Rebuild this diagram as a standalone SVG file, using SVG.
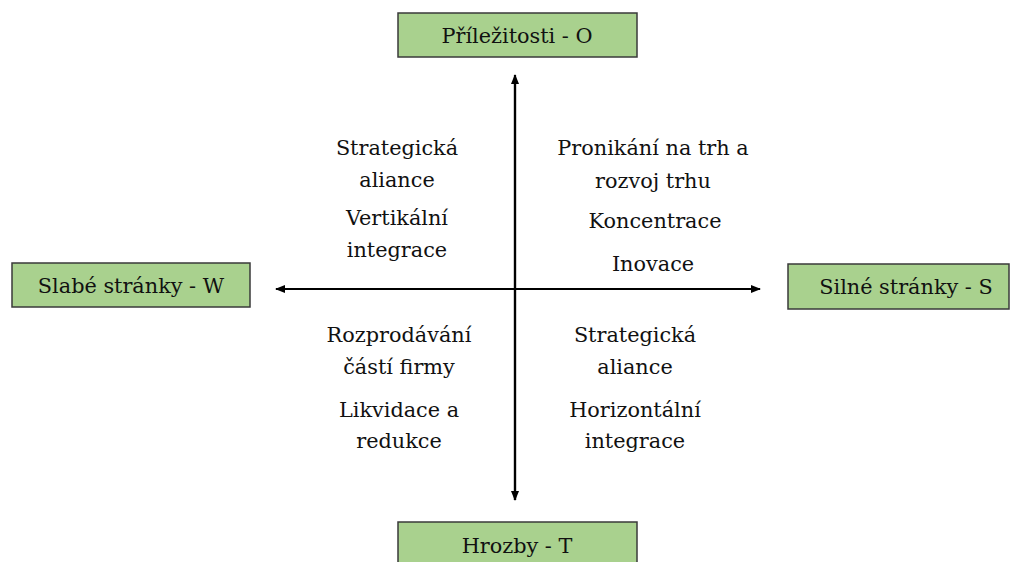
<svg xmlns="http://www.w3.org/2000/svg" width="1012" height="562" viewBox="0 0 1012 562">
<defs>
<marker id="arr" viewBox="0 0 10 10" refX="9" refY="5" markerWidth="10" markerHeight="10" markerUnits="userSpaceOnUse" orient="auto">
<path d="M0,1 L10,5 L0,9 Z" fill="#000"/>
</marker>
<style>
.box{fill:#a9d18e;stroke:#3a3a3a;stroke-width:1.5}
.t{font-family:'DejaVu Serif',serif;font-size:20.8px;fill:#111;text-anchor:middle}
.ax{stroke:#000;stroke-width:2.2;fill:none}
</style>
</defs>
<rect width="1012" height="562" fill="#fff"/>
<g id="connectors">
<line class="ax" x1="515" y1="500" x2="515" y2="75" marker-end="url(#arr)"/>
<line class="ax" x1="515" y1="80" x2="515" y2="500" marker-end="url(#arr)"/>
<line class="ax" x1="515" y1="289" x2="276" y2="289" marker-end="url(#arr)"/>
<line class="ax" x1="515" y1="289" x2="760" y2="289" marker-end="url(#arr)"/>
</g>
<g id="node-O">
<rect class="box" x="398" y="13" width="239" height="44"/>
<text class="t" x="517" y="43">Příležitosti - O</text>
</g>
<g id="node-W">
<rect class="box" x="12" y="263" width="238" height="44"/>
<text class="t" x="131" y="293">Slabé stránky - W</text>
</g>
<g id="node-S">
<rect class="box" x="788" y="264" width="221" height="45"/>
<text class="t" x="906" y="294">Silné stránky - S</text>
</g>
<g id="node-T">
<rect class="box" x="398" y="522" width="239" height="50"/>
<text class="t" x="517" y="553">Hrozby - T</text>
</g>
<g id="quadrant-WO">
<text class="t" x="397" y="155">Strategická</text>
<text class="t" x="397" y="187">aliance</text>
<text class="t" x="397" y="225">Vertikální</text>
<text class="t" x="397" y="257">integrace</text>
</g>
<g id="quadrant-SO">
<text class="t" x="653" y="155">Pronikání na trh a</text>
<text class="t" x="653" y="188">rozvoj trhu</text>
<text class="t" x="655" y="228">Koncentrace</text>
<text class="t" x="653" y="271">Inovace</text>
</g>
<g id="quadrant-WT">
<text class="t" x="399" y="342">Rozprodávání</text>
<text class="t" x="399" y="374">částí firmy</text>
<text class="t" x="399" y="417">Likvidace a</text>
<text class="t" x="399" y="448">redukce</text>
</g>
<g id="quadrant-ST">
<text class="t" x="635" y="342">Strategická</text>
<text class="t" x="635" y="374">aliance</text>
<text class="t" x="635" y="417">Horizontální</text>
<text class="t" x="635" y="448">integrace</text>
</g>
</svg>
